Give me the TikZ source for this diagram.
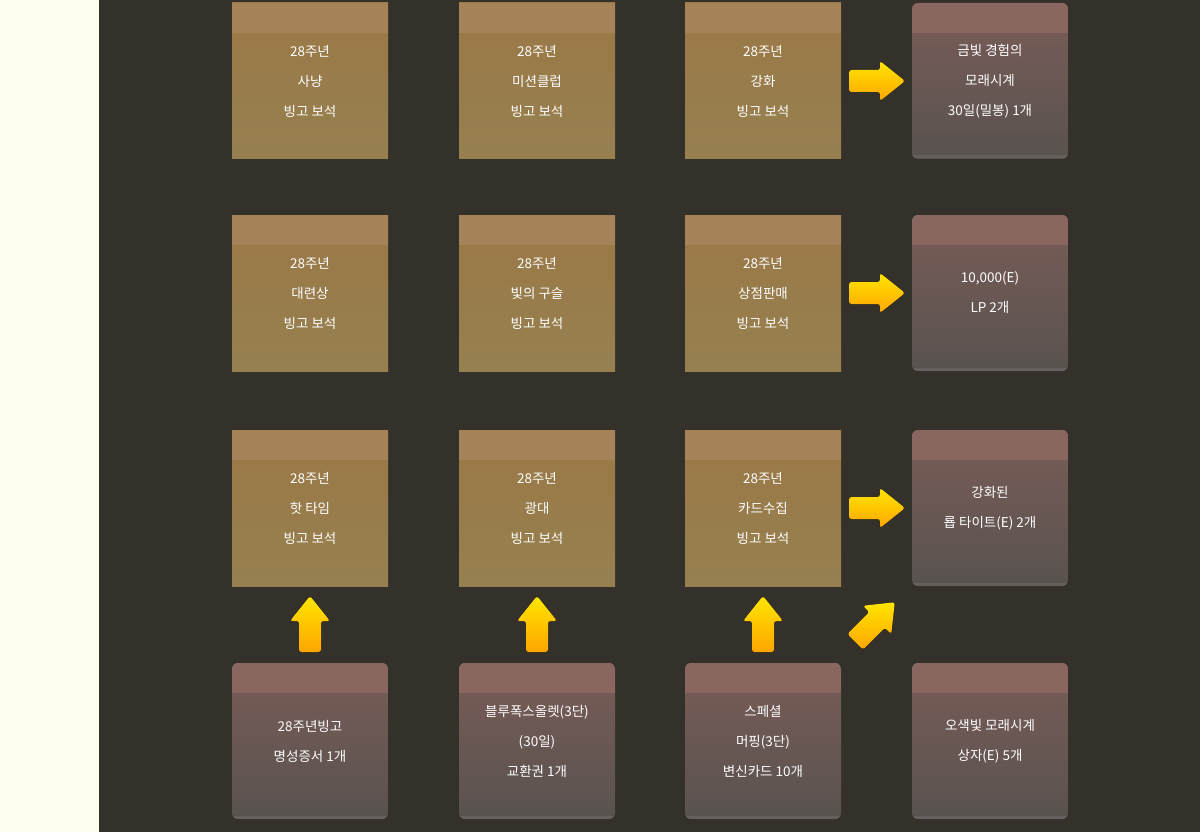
\documentclass[tikz,border=0pt]{standalone}
\usepackage{fontspec}
\setmainfont{Noto Sans CJK KR}
\begin{document}
\begin{tikzpicture}[x=1pt,y=-1pt,
  lbl/.style={text=white,align=center,font=\fontsize{13.5}{30}\selectfont},
  yarrow/.pic={\fill[top color=yellow!80!orange,bottom color=orange!70!yellow,rounded corners=2.5pt,shading angle=0]
     (-28,-11)--(3,-11)--(3,-20)--(28,0)--(3,20)--(3,11)--(-28,11)--cycle;}]
\fill[color={rgb,255:red,255;green,253;blue,240}] (0,0) rectangle (99,832);
\fill[color={rgb,255:red,52;green,49;blue,42}] (99,0) rectangle (1200,832);
\useasboundingbox (0,0) rectangle (1200,832);
\newcommand\gbox[4]{%
  \shade[top color={rgb,255:red,155;green,120;blue,70},bottom color={rgb,255:red,150;green,128;blue,80}] (#2,#3) rectangle ++(156,156);
  \fill[color={rgb,255:red,166;green,130;blue,88}] (#2,#3) rectangle ++(156,30);
  \node[lbl] (#1) at (#2+78,#3+78) {#4};}
\newcommand\rbox[4]{%
  \begin{scope}
  \clip[rounded corners=6] (#2,#3) rectangle ++(156,156);
  \shade[top color={rgb,255:red,122;green,92;blue,86},bottom color={rgb,255:red,88;green,83;blue,80}] (#2,#3) rectangle ++(156,156);
  \fill[color={rgb,255:red,138;green,102;blue,96}] (#2,#3) rectangle ++(156,30);
  \draw[color={rgb,255:red,100;green,95;blue,92},line width=3] (#2,#3+154) -- ++(156,0);
  \end{scope}
  \node[lbl] (#1) at (#2+78,#3+78) {#4};}
\gbox{a1}{232}{3}{28주년\\사냥\\빙고 보석}
\gbox{a2}{459}{3}{28주년\\미션클럽\\빙고 보석}
\gbox{a3}{685}{3}{28주년\\강화\\빙고 보석}
\rbox{a4}{912}{3}{금빛 경험의\\모래시계\\30일(밀봉) 1개}
\gbox{b1}{232}{215}{28주년\\대련상\\빙고 보석}
\gbox{b2}{459}{215}{28주년\\빛의 구슬\\빙고 보석}
\gbox{b3}{685}{215}{28주년\\상점판매\\빙고 보석}
\rbox{b4}{912}{215}{10,000(E)\\LP 2개}
\gbox{c1}{232}{430}{28주년\\핫 타임\\빙고 보석}
\gbox{c2}{459}{430}{28주년\\광대\\빙고 보석}
\gbox{c3}{685}{430}{28주년\\카드수집\\빙고 보석}
\rbox{c4}{912}{430}{강화된\\룝 타이트(E) 2개}
\rbox{d1}{232}{663}{28주년빙고\\명성증서 1개}
\rbox{d2}{459}{663}{블루폭스올렛(3단)\\(30일)\\교환권 1개}
\rbox{d3}{685}{663}{스페셜\\머핑(3단)\\변신카드 10개}
\rbox{d4}{912}{663}{오색빛 모래시계\\상자(E) 5개}
\pic at (877,81) {yarrow};
\pic at (877,293) {yarrow};
\pic at (877,508) {yarrow};
\pic[rotate=90] at (310,624) {yarrow};
\pic[rotate=90] at (537,624) {yarrow};
\pic[rotate=90] at (763,624) {yarrow};
\pic[rotate=45] at (875,622) {yarrow};
\end{tikzpicture}
\end{document}
